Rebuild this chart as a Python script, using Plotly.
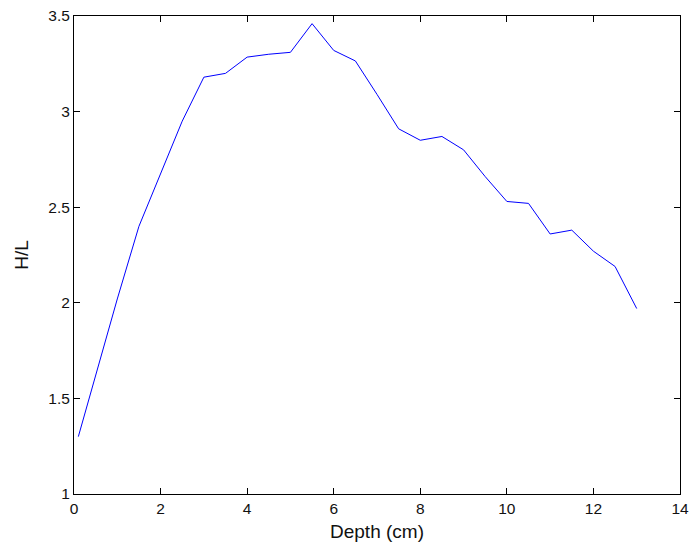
import plotly.graph_objects as go

depth = [0.1, 0.5, 1.0, 1.5, 2.0, 2.5, 3.0, 3.5, 4.0, 4.5, 5.0, 5.5, 6.0, 6.5,
         7.0, 7.5, 8.0, 8.5, 9.0, 9.5, 10.0, 10.5, 11.0, 11.5, 12.0, 12.5, 13.0]
hl = [1.30, 1.62, 2.02, 2.40, 2.67, 2.95, 3.18, 3.20, 3.285, 3.30, 3.31, 3.46, 3.32, 3.265,
      3.09, 2.91, 2.85, 2.87, 2.80, 2.66, 2.53, 2.52, 2.36, 2.38, 2.27, 2.19, 1.97]

x_ticks = [0, 2, 4, 6, 8, 10, 12, 14]
y_ticks = [1, 1.5, 2, 2.5, 3, 3.5]
y_tick_labels = ["1", "1.5", "2", "2.5", "3", "3.5"]

FONT = "Liberation Sans, Arial"

fig = go.Figure()
fig.add_trace(go.Scatter(x=depth, y=hl, mode="lines",
                         line=dict(color="#0000ff", width=1), showlegend=False))

axis_common = dict(showgrid=False, zeroline=False, showline=True, linecolor="black",
                   linewidth=1, mirror="ticks", ticks="inside", ticklen=6,
                   tickcolor="black", ticklabeloverflow="allow", automargin=False,
                   tickfont=dict(family=FONT, size=15.5, color="#111"))

fig.update_layout(
    width=689, height=546,
    margin=dict(l=74, r=9, t=16, b=52),
    paper_bgcolor="white", plot_bgcolor="white",
    font=dict(family=FONT, size=16, color="#111"),
    xaxis=dict(range=[0, 14], tickvals=x_ticks, title=dict(text="Depth (cm)", standoff=9), **axis_common),
    yaxis=dict(range=[1, 3.5], tickvals=y_ticks, ticktext=y_tick_labels,
               title=dict(text="H/L", standoff=14), **axis_common),
)

# Remove the browser's default 8px body margin so the figure fills the window exactly.
fig.write_html("out.html", config={"displayModeBar": False},
               post_script="document.body.style.margin='0';document.body.style.overflow='hidden';")
